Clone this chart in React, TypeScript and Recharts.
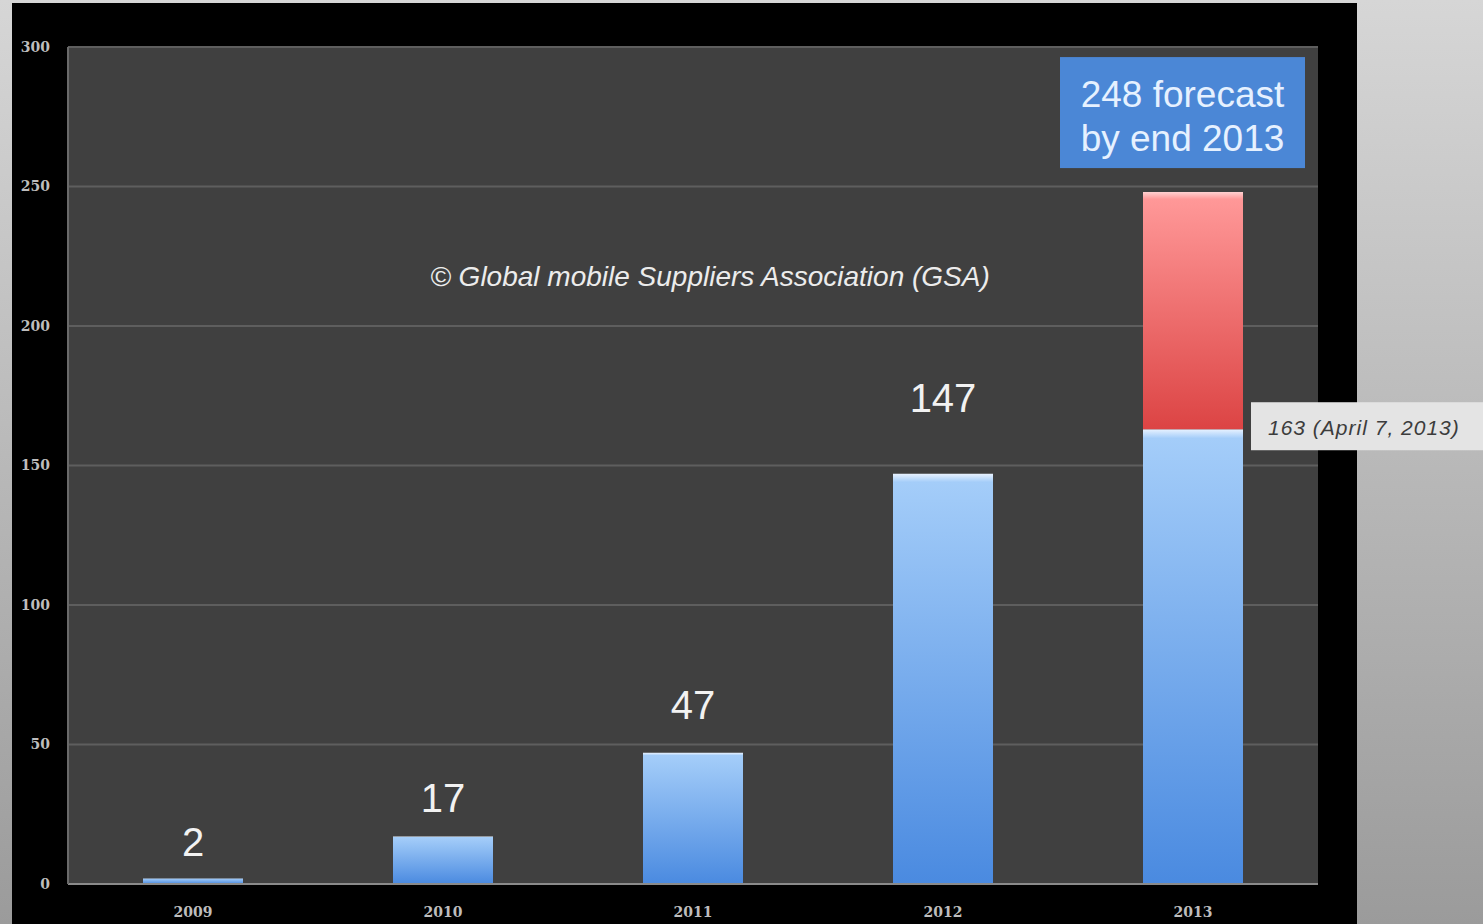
import { BarChart, Bar, XAxis, YAxis, CartesianGrid, LabelList, ReferenceDot } from "recharts";

const years = ["2009", "2010", "2011", "2012", "2013"];
const actual = [2, 17, 47, 147, 163];
const forecastExtra = [0, 0, 0, 0, 85];
const yTicks = [0, 50, 100, 150, 200, 250, 300];
const forecastTotal = 248;
const forecastLines = ["248 forecast", "by end 2013"];
const aprilNote = "163 (April 7, 2013)";
const sourceNote = "\u00a9 Global mobile Suppliers Association (GSA)";

const data = years.map((year, i) => ({
  year,
  actual: actual[i],
  extra: forecastExtra[i],
}));

// gap between bar top and label baseline, the source deck placed them by hand
const labelGaps = [22, 25, 34, 62, 0];

const W = 1483;
const H = 924;

function ValueLabel(props: any) {
  const { x, y, width, value, index } = props;
  if (index === years.length - 1) return null;
  return (
    <text
      x={x + width / 2}
      y={y - labelGaps[index]}
      textAnchor="middle"
      fill="#f2f2f2"
      fontSize={40}
      fontFamily="Liberation Sans, Arial, sans-serif"
    >
      {value}
    </text>
  );
}

function ForecastBox(props: any) {
  const { cx, cy } = props;
  const w = 245;
  const h = 111;
  const left = cx - 133;
  const top = cy - 135;
  return (
    <g>
      <rect x={left} y={top} width={w} height={h} fill="#4b87d6" />
      {forecastLines.map((t, i) => (
        <text
          key={t}
          x={left + w / 2}
          y={top + 50 + i * 44}
          textAnchor="middle"
          fill="#e6f1ff"
          fontSize={37}
          fontFamily="Liberation Sans, Arial, sans-serif"
        >
          {t}
        </text>
      ))}
    </g>
  );
}

function AprilBox(props: any) {
  const { cx, cy } = props;
  const left = cx + 58;
  return (
    <g>
      <rect x={left} y={cy - 27} width={W - left} height={48} fill="#e4e4e4" />
      <text
        x={left + 17}
        y={cy + 6}
        fill="#3c3c3c"
        fontSize={21}
        letterSpacing={1}
        fontStyle="italic"
        fontFamily="Liberation Sans, Arial, sans-serif"
      >
        {aprilNote}
      </text>
    </g>
  );
}

function SourceText(props: any) {
  const { cx, cy } = props;
  return (
    <text
      x={cx + 17}
      y={cy + 7}
      textAnchor="middle"
      fill="#ececec"
      fontSize={28}
      fontStyle="italic"
      fontFamily="Liberation Sans, Arial, sans-serif"
    >
      {sourceNote}
    </text>
  );
}

export default function App() {
  const tickStyle = {
    fontSize: 14,
    fill: "#bdbdbd",
    fontWeight: 700,
    fontFamily: "DejaVu Serif, serif",
  };

  return (
    <div
      style={{
        position: "absolute",
        left: 0,
        top: 0,
        width: W,
        height: H,
        overflow: "hidden",
        background: "linear-gradient(to bottom, #d6d6d6, #9b9b9b)",
      }}
    >
      <div
        style={{
          position: "absolute",
          left: 12,
          top: 3,
          width: 1345,
          height: H - 3,
          background: "#000",
        }}
      />
      <div style={{ position: "absolute", left: 0, top: 0 }}>
        <BarChart
          width={W}
          height={H}
          data={data}
          margin={{ top: 47, right: 165, bottom: 0, left: 12 }}
          barCategoryGap="30%"
        >
          <defs>
            <linearGradient id="blueBar" x1="0" y1="0" x2="0" y2="1">
              <stop offset="0%" stopColor="#e8f2ff" />
              <stop offset="2%" stopColor="#a4cdf9" />
              <stop offset="100%" stopColor="#4a8ae0" />
            </linearGradient>
            <linearGradient id="redBar" x1="0" y1="0" x2="0" y2="1">
              <stop offset="0%" stopColor="#ffd0d0" />
              <stop offset="3%" stopColor="#ff9898" />
              <stop offset="100%" stopColor="#dc4444" />
            </linearGradient>
          </defs>
          <CartesianGrid vertical={false} stroke="#5e5e5e" strokeWidth={2} fill="#404040" />
          <XAxis
            dataKey="year"
            height={40}
            tick={tickStyle}
            tickLine={false}
            tickSize={0}
            tickMargin={23}
            axisLine={{ stroke: "#8a8a8a", strokeWidth: 2 }}
          />
          <YAxis
            width={56}
            domain={[0, 300]}
            ticks={yTicks}
            tick={tickStyle}
            tickLine={false}
            tickSize={0}
            tickMargin={18}
            axisLine={{ stroke: "#6a6a6a", strokeWidth: 2 }}
          />
          <Bar dataKey="actual" stackId="a" fill="url(#blueBar)" isAnimationActive={false}>
            <LabelList dataKey="actual" content={<ValueLabel />} />
          </Bar>
          <Bar dataKey="extra" stackId="a" fill="url(#redBar)" isAnimationActive={false} />
          <ReferenceDot x="2011" y={217} r={1} ifOverflow="visible" shape={<SourceText />} />
          <ReferenceDot x="2013" y={forecastTotal} r={1} ifOverflow="visible" shape={<ForecastBox />} />
          <ReferenceDot x="2013" y={actual[4]} r={1} ifOverflow="visible" shape={<AprilBox />} />
        </BarChart>
      </div>
    </div>
  );
}
